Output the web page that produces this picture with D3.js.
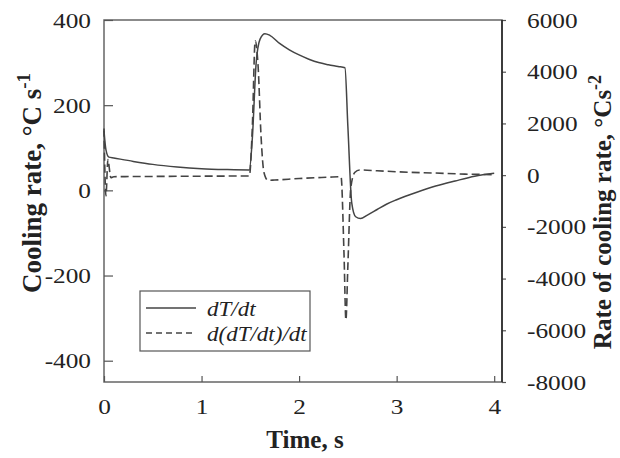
<!DOCTYPE html>
<html>
<head>
<meta charset="utf-8">
<script src="https://cdn.jsdelivr.net/npm/d3@7"></script>
<style>
  body { margin: 0; background: #fff; }
  text { font-family: "Liberation Serif", "Times New Roman", serif; fill: #222; }
</style>
</head>
<body>
<div id="chart"></div>
<script>
// dT/dt, left axis (°C/s)
const rateTime = [0, 0.02, 0.05, 0.1, 0.3, 0.5, 0.75, 1.0, 1.25, 1.49, 1.52, 1.56, 1.6, 1.65, 1.7, 1.8, 1.9, 2.0, 2.1, 2.2, 2.3, 2.4, 2.47, 2.5, 2.54, 2.58, 2.63, 2.7, 2.8, 2.9, 3.0, 3.2, 3.4, 3.6, 3.8, 4.0];
const rateValue = [140, 95, 78, 76, 68, 61, 55, 51, 49, 48, 120, 300, 355, 368, 364, 345, 330, 318, 308, 300, 295, 291, 288, 150, -30, -62, -66, -58, -45, -32, -22, -5, 10, 22, 33, 40];

// d(dT/dt)/dt, right axis (°C/s²)
const accelTime = [0, 0.02, 0.04, 0.07, 0.1, 0.5, 1.0, 1.49, 1.52, 1.55, 1.58, 1.61, 1.64, 1.68, 1.75, 2.0, 2.3, 2.43, 2.46, 2.48, 2.5, 2.53, 2.57, 2.62, 2.8, 3.0, 3.4, 3.7, 4.0];
const accelValue = [1800, -800, 600, -100, -60, -50, -40, -30, 1800, 5200, 4200, 1500, 100, -200, -190, -130, -80, -60, -3000, -5600, -3500, -500, 100, 200, 170, 130, 80, 40, 20];

const leftTicks = [-400, -200, 0, 200, 400];
const rightTicks = [-8000, -6000, -4000, -2000, 0, 2000, 4000, 6000];
const timeTicks = [0, 1, 2, 3, 4];

const margin = {top: 20, right: 118, bottom: 76, left: 104};
const W = 620, H = 458;
const width = W - margin.left - margin.right,
      height = H - margin.top - margin.bottom;

const svg = d3.select("#chart").append("svg")
    .attr("width", W).attr("height", H);
const g = svg.append("g")
    .attr("transform", "translate(" + margin.left + "," + margin.top + ")");

const x = d3.scaleLinear().domain([0, 4.08]).range([0, width]);
const yL = d3.scaleLinear().domain([-450, 400]).range([height, 0]);
const yR = d3.scaleLinear().domain([-8000, 6000]).range([height, 0]);

// plain hyphen for negatives, like the original
const plain = function (d) { return String(d); };

// widen glyphs a little: the original lettering is broader than Liberation Serif
function stretch(sel, k) {
  sel.each(function () {
    const len = this.getComputedTextLength();
    d3.select(this).attr("textLength", len * k).attr("lengthAdjust", "spacingAndGlyphs");
  });
}

// frame
g.append("rect")
    .attr("width", width).attr("height", height)
    .attr("fill", "none").attr("stroke", "#666").attr("stroke-width", 1.5);

function styleAxis(sel) {
  sel.select(".domain").remove();
  sel.selectAll("line").attr("stroke", "#555").attr("stroke-width", 1.2);
  sel.selectAll("text").style("font-size", "22px").attr("fill", "#222").call(stretch, 1.15);
}

g.append("g")
    .attr("transform", "translate(0," + height + ")")
    .call(d3.axisBottom(x).tickValues(timeTicks).tickSize(-6).tickPadding(16).tickFormat(plain))
    .call(styleAxis);

g.append("g")
    .call(d3.axisLeft(yL).tickValues(leftTicks).tickSize(-9).tickPadding(13).tickFormat(plain))
    .call(styleAxis);

g.append("g")
    .attr("transform", "translate(" + width + ",0)")
    .call(d3.axisRight(yR).tickValues(rightTicks).tickSize(4).tickPadding(21).tickFormat(plain))
    .call(styleAxis);

// right axis line is darker in the original
g.append("line")
    .attr("x1", width).attr("x2", width).attr("y1", 0).attr("y2", height)
    .attr("stroke", "#222").attr("stroke-width", 1.5);

const rateLine = d3.line()
    .x(function (d, i) { return x(rateTime[i]); })
    .y(function (d) { return yL(d); })
    .curve(d3.curveMonotoneX);

const accelLine = d3.line()
    .x(function (d, i) { return x(accelTime[i]); })
    .y(function (d) { return yR(d); })
    .curve(d3.curveMonotoneX);

g.append("path")
    .datum(accelValue)
    .attr("d", accelLine)
    .attr("fill", "none").attr("stroke", "#444").attr("stroke-width", 1.6)
    .attr("stroke-dasharray", "8,4");

g.append("path")
    .datum(rateValue)
    .attr("d", rateLine)
    .attr("fill", "none").attr("stroke", "#444").attr("stroke-width", 1.5);

// legend
const legend = svg.append("g").attr("transform", "translate(140,291)");
legend.append("rect")
    .attr("width", 170).attr("height", 60)
    .attr("fill", "#fff").attr("stroke", "#555").attr("stroke-width", 1.2);
const legendItems = [
  {label: "dT/dt", dash: null},
  {label: "d(dT/dt)/dt", dash: "6,4"}
];
legendItems.forEach(function (item, i) {
  const yy = 17 + i * 25;
  legend.append("line")
      .attr("x1", 6).attr("x2", 56).attr("y1", yy).attr("y2", yy)
      .attr("stroke", "#444").attr("stroke-width", 1.5)
      .attr("stroke-dasharray", item.dash);
  legend.append("text")
      .attr("x", 67).attr("y", yy + 8)
      .style("font-size", "20px").style("font-style", "italic")
      .text(item.label)
      .call(stretch, 1.15);
});

// axis titles
const leftTitle = svg.append("text")
    .attr("transform", "translate(41,183) rotate(-90)")
    .attr("text-anchor", "middle")
    .style("font-size", "27px").style("font-weight", "bold");
leftTitle.append("tspan").text("Cooling rate, °C s");
leftTitle.append("tspan").attr("dy", -11).style("font-size", "19px").text("-1");

const rightTitle = svg.append("text")
    .attr("transform", "translate(611,212) rotate(-90)")
    .attr("text-anchor", "middle")
    .style("font-size", "25px").style("font-weight", "bold");
rightTitle.append("tspan").text("Rate of cooling rate, °Cs");
rightTitle.append("tspan").attr("dy", -10).style("font-size", "18px").text("-2");

svg.append("text")
    .attr("x", 305).attr("y", 448)
    .attr("text-anchor", "middle")
    .style("font-size", "25px").style("font-weight", "bold")
    .text("Time, s");
</script>
</body>
</html>
